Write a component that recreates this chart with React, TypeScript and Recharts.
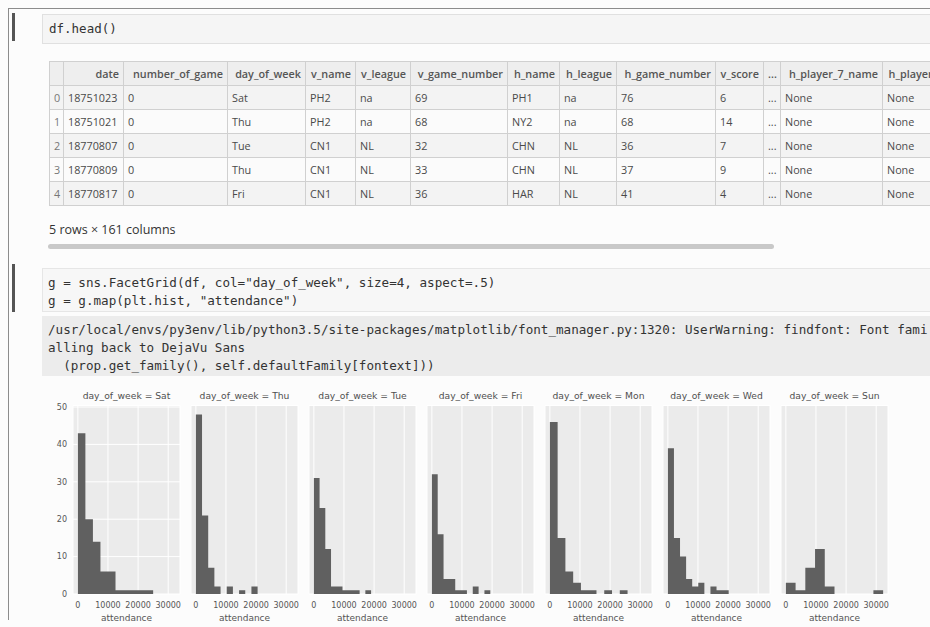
import React from 'react';
import { AreaChart, Area, XAxis, YAxis, CartesianGrid, Label } from 'recharts';

// ---------- data ----------
const DAYS = ['Sat', 'Thu', 'Tue', 'Fri', 'Mon', 'Wed', 'Sun'];
// upper edge of the 10 histogram bins of each facet (lower edge is 0)
const BIN_UPPER = [25000, 20500, 19000, 19400, 25800, 20200, 32300];
const COUNTS_SAT = [43, 20, 14, 6, 6, 1, 1, 1, 1, 1];
const COUNTS_THU = [48, 21, 7, 2, 0, 2, 0, 1, 0, 2];
const COUNTS_TUE = [31, 23, 12, 2, 2, 1, 1, 1, 0, 1];
const COUNTS_FRI = [32, 16, 4, 4, 1, 1, 0, 2, 0, 1];
const COUNTS_MON = [46, 15, 6, 3, 1, 1, 0, 1, 0, 1];
const COUNTS_WED = [39, 15, 10, 4, 2, 3, 0, 2, 1, 1];
const COUNTS_SUN = [3, 1, 7, 12, 2, 0, 0, 0, 0, 1];
const ALL_COUNTS = [COUNTS_SAT, COUNTS_THU, COUNTS_TUE, COUNTS_FRI, COUNTS_MON, COUNTS_WED, COUNTS_SUN];
const X_TICKS = [0, 10000, 20000, 30000];
const Y_TICKS = [0, 10, 20, 30, 40, 50];
const X_DOMAIN = [-1615, 33915];
const Y_DOMAIN = [0, 50.4];

const TABLE_COLUMNS = ['', 'date', 'number_of_game', 'day_of_week', 'v_name', 'v_league', 'v_game_number', 'h_name', 'h_league', 'h_game_number', 'v_score', '...', 'h_player_7_name', 'h_player_7_def_pos'];
const TABLE_ROWS = [
  ['0', '18751023', '0', 'Sat', 'PH2', 'na', '69', 'PH1', 'na', '76', '6', '...', 'None', 'None'],
  ['1', '18751021', '0', 'Thu', 'PH2', 'na', '68', 'NY2', 'na', '68', '14', '...', 'None', 'None'],
  ['2', '18770807', '0', 'Tue', 'CN1', 'NL', '32', 'CHN', 'NL', '36', '7', '...', 'None', 'None'],
  ['3', '18770809', '0', 'Thu', 'CN1', 'NL', '33', 'CHN', 'NL', '37', '9', '...', 'None', 'None'],
  ['4', '18770817', '0', 'Fri', 'CN1', 'NL', '36', 'HAR', 'NL', '41', '4', '...', 'None', 'None'],
];
const SHAPE_TEXT = '5 rows × 161 columns';
const CODE_1 = ['df.head()'];
const CODE_2 = ['g = sns.FacetGrid(df, col="day_of_week", size=4, aspect=.5)', 'g = g.map(plt.hist, "attendance")'];
const WARNING = [
  '/usr/local/envs/py3env/lib/python3.5/site-packages/matplotlib/font_manager.py:1320: UserWarning: findfont: Font fami',
  'alling back to DejaVu Sans',
  '  (prop.get_family(), self.defaultFamily[fontext]))',
];

// ---------- styles ----------
const COL_WIDTHS = [14, 60, 104, 78, 50, 55, 97, 52, 57, 99, 48, 17, 102, 110];
const MONO = '"DejaVu Sans Mono", monospace';
const PLOT_W = 107;
const PANEL_PITCH = 118;
const FIRST_LEFT = 73;
const CHART_TOP = 395;
const CHART_H = 232;
const TEXT_GRAY = '#4a4a4a';

function Facet({ index }: { index: number }) {
  const counts = ALL_COUNTS[index];
  const upper = BIN_UPPER[index];
  const step = upper / counts.length;
  const data = counts.map((n, i) => ({ x: i * step, n }));
  data.push({ x: upper, n: counts[counts.length - 1] });
  const first = index === 0;
  const plotLeft = FIRST_LEFT + PANEL_PITCH * index;
  const yW = first ? 30 : 0;
  const ml = first ? 5 : 12;
  const mr = 14;
  const tickStyle = { fontFamily: '"DejaVu Sans"', fontSize: 8, fill: '#555' };
  return (
    <div style={{ position: 'absolute', left: plotLeft - ml - yW, top: CHART_TOP }}>
      <AreaChart
        width={ml + yW + PLOT_W + mr}
        height={CHART_H}
        data={data}
        margin={{ top: 10.5, right: mr, bottom: 3, left: ml }}
      >
        <CartesianGrid fill="#ebebeb" fillOpacity={1} stroke="#ffffff" strokeWidth={1} />
        <XAxis
          dataKey="x"
          type="number"
          domain={X_DOMAIN}
          allowDataOverflow
          ticks={X_TICKS}
          interval={0}
          tickLine={false}
          axisLine={false}
          tickSize={0}
          tickMargin={8}
          height={30}
          tick={tickStyle}
        >
          <Label value="attendance" position="insideBottom" offset={3} style={{ fontFamily: '"DejaVu Sans"', fontSize: 9, fill: '#555' }} />
        </XAxis>
        <YAxis
          type="number"
          domain={Y_DOMAIN}
          allowDataOverflow
          ticks={Y_TICKS}
          width={yW}
          tick={first ? tickStyle : false}
          tickLine={false}
          axisLine={false}
          tickSize={0}
          tickMargin={6}
        />
        <Area type="stepAfter" dataKey="n" stroke="none" fill="#606060" fillOpacity={1} isAnimationActive={false} />
      </AreaChart>
      <div
        style={{
          position: 'absolute',
          left: ml + yW,
          top: -5,
          width: PLOT_W,
          textAlign: 'center',
          fontFamily: '"DejaVu Sans"',
          fontSize: 9.2,
          lineHeight: '12px',
          color: '#505050',
          whiteSpace: 'nowrap',
        }}
      >
        {'day_of_week = ' + DAYS[index]}
      </div>
    </div>
  );
}

export default function App() {
  const cellBorder = '1px solid #d0d0d0';
  return (
    <div
      style={{
        position: 'absolute',
        left: 0,
        top: 0,
        width: 930,
        height: 627,
        overflow: 'hidden',
        background: '#fcfcfc',
        fontFamily: '"Open Sans", sans-serif',
      }}
    >
      {/* notebook frame */}
      <div style={{ position: 'absolute', left: 8, top: 8, width: 922, height: 1, background: '#8c8c8c' }} />
      <div style={{ position: 'absolute', left: 8, top: 8, width: 1, height: 612, background: '#8c8c8c' }} />

      {/* cell 1 */}
      <div style={{ position: 'absolute', left: 12, top: 13, width: 3, height: 28, background: '#555' }} />
      <div style={{ position: 'absolute', left: 42, top: 14, width: 900, height: 28, background: '#f5f5f5', border: '1px solid #e0e0e0' }} />
      {CODE_1.map((line, i) => (
        <div key={i} style={{ position: 'absolute', left: 49, top: 21 + i * 18, fontFamily: MONO, fontSize: 12.5, lineHeight: '16px', color: '#333', whiteSpace: 'pre' }}>{line}</div>
      ))}

      {/* dataframe table */}
      <div style={{ position: 'absolute', left: 0, top: 61, width: 930, height: 150, overflow: 'hidden' }}>
        <table
          style={{
            position: 'absolute',
            left: 49,
            top: 0,
            borderCollapse: 'collapse',
            tableLayout: 'fixed',
            width: COL_WIDTHS.reduce((a, b) => a + b, 0),
            fontSize: 10.8,
            color: TEXT_GRAY,
          }}
        >
          <colgroup>
            {COL_WIDTHS.map((w, i) => (
              <col key={i} style={{ width: w }} />
            ))}
          </colgroup>
          <thead>
            <tr style={{ height: 24, background: '#eeeeee' }}>
              {TABLE_COLUMNS.map((c, i) => (
                <th key={i} style={{ border: cellBorder, textAlign: 'right', padding: '0 4px', fontWeight: 600, color: '#555', whiteSpace: 'nowrap', overflow: 'visible' }}>{c}</th>
              ))}
            </tr>
          </thead>
          <tbody>
            {TABLE_ROWS.map((row, r) => (
              <tr key={r} style={{ height: 24, background: r % 2 === 0 ? '#f3f3f3' : '#fbfbfb' }}>
                {row.map((v, i) => (
                  <td
                    key={i}
                    style={{
                      border: cellBorder,
                      textAlign: i === 0 ? 'right' : 'left',
                      padding: '0 4px',
                      color: i === 0 ? '#777' : TEXT_GRAY,
                      whiteSpace: 'nowrap',
                    }}
                  >
                    {v}
                  </td>
                ))}
              </tr>
            ))}
          </tbody>
        </table>
      </div>

      <div style={{ position: 'absolute', left: 49, top: 221, fontSize: 12.5, lineHeight: '18px', color: '#333', whiteSpace: 'nowrap' }}>{SHAPE_TEXT}</div>
      {/* horizontal scrollbar */}
      <div style={{ position: 'absolute', left: 48, top: 244, width: 726, height: 5, borderRadius: 3, background: '#c9c9c9' }} />

      {/* cell 2 */}
      <div style={{ position: 'absolute', left: 12, top: 264, width: 3, height: 48, background: '#555' }} />
      <div style={{ position: 'absolute', left: 42, top: 268, width: 900, height: 42, background: '#f7f7f7', border: '1px solid #e6e6e6' }} />
      {CODE_2.map((line, i) => (
        <div key={i} style={{ position: 'absolute', left: 48, top: 275 + i * 18, fontFamily: MONO, fontSize: 12.6, lineHeight: '16px', color: '#333', whiteSpace: 'pre' }}>{line}</div>
      ))}

      {/* stderr box */}
      <div style={{ position: 'absolute', left: 42, top: 316, width: 900, height: 60, background: '#ececec' }} />
      {WARNING.map((line, i) => (
        <div key={i} style={{ position: 'absolute', left: 48, top: 322 + i * 18, fontFamily: MONO, fontSize: 12.6, lineHeight: '16px', color: '#333', whiteSpace: 'pre' }}>{line}</div>
      ))}

      {/* facet grid */}
      {DAYS.map((d, i) => (
        <Facet key={d} index={i} />
      ))}
    </div>
  );
}
